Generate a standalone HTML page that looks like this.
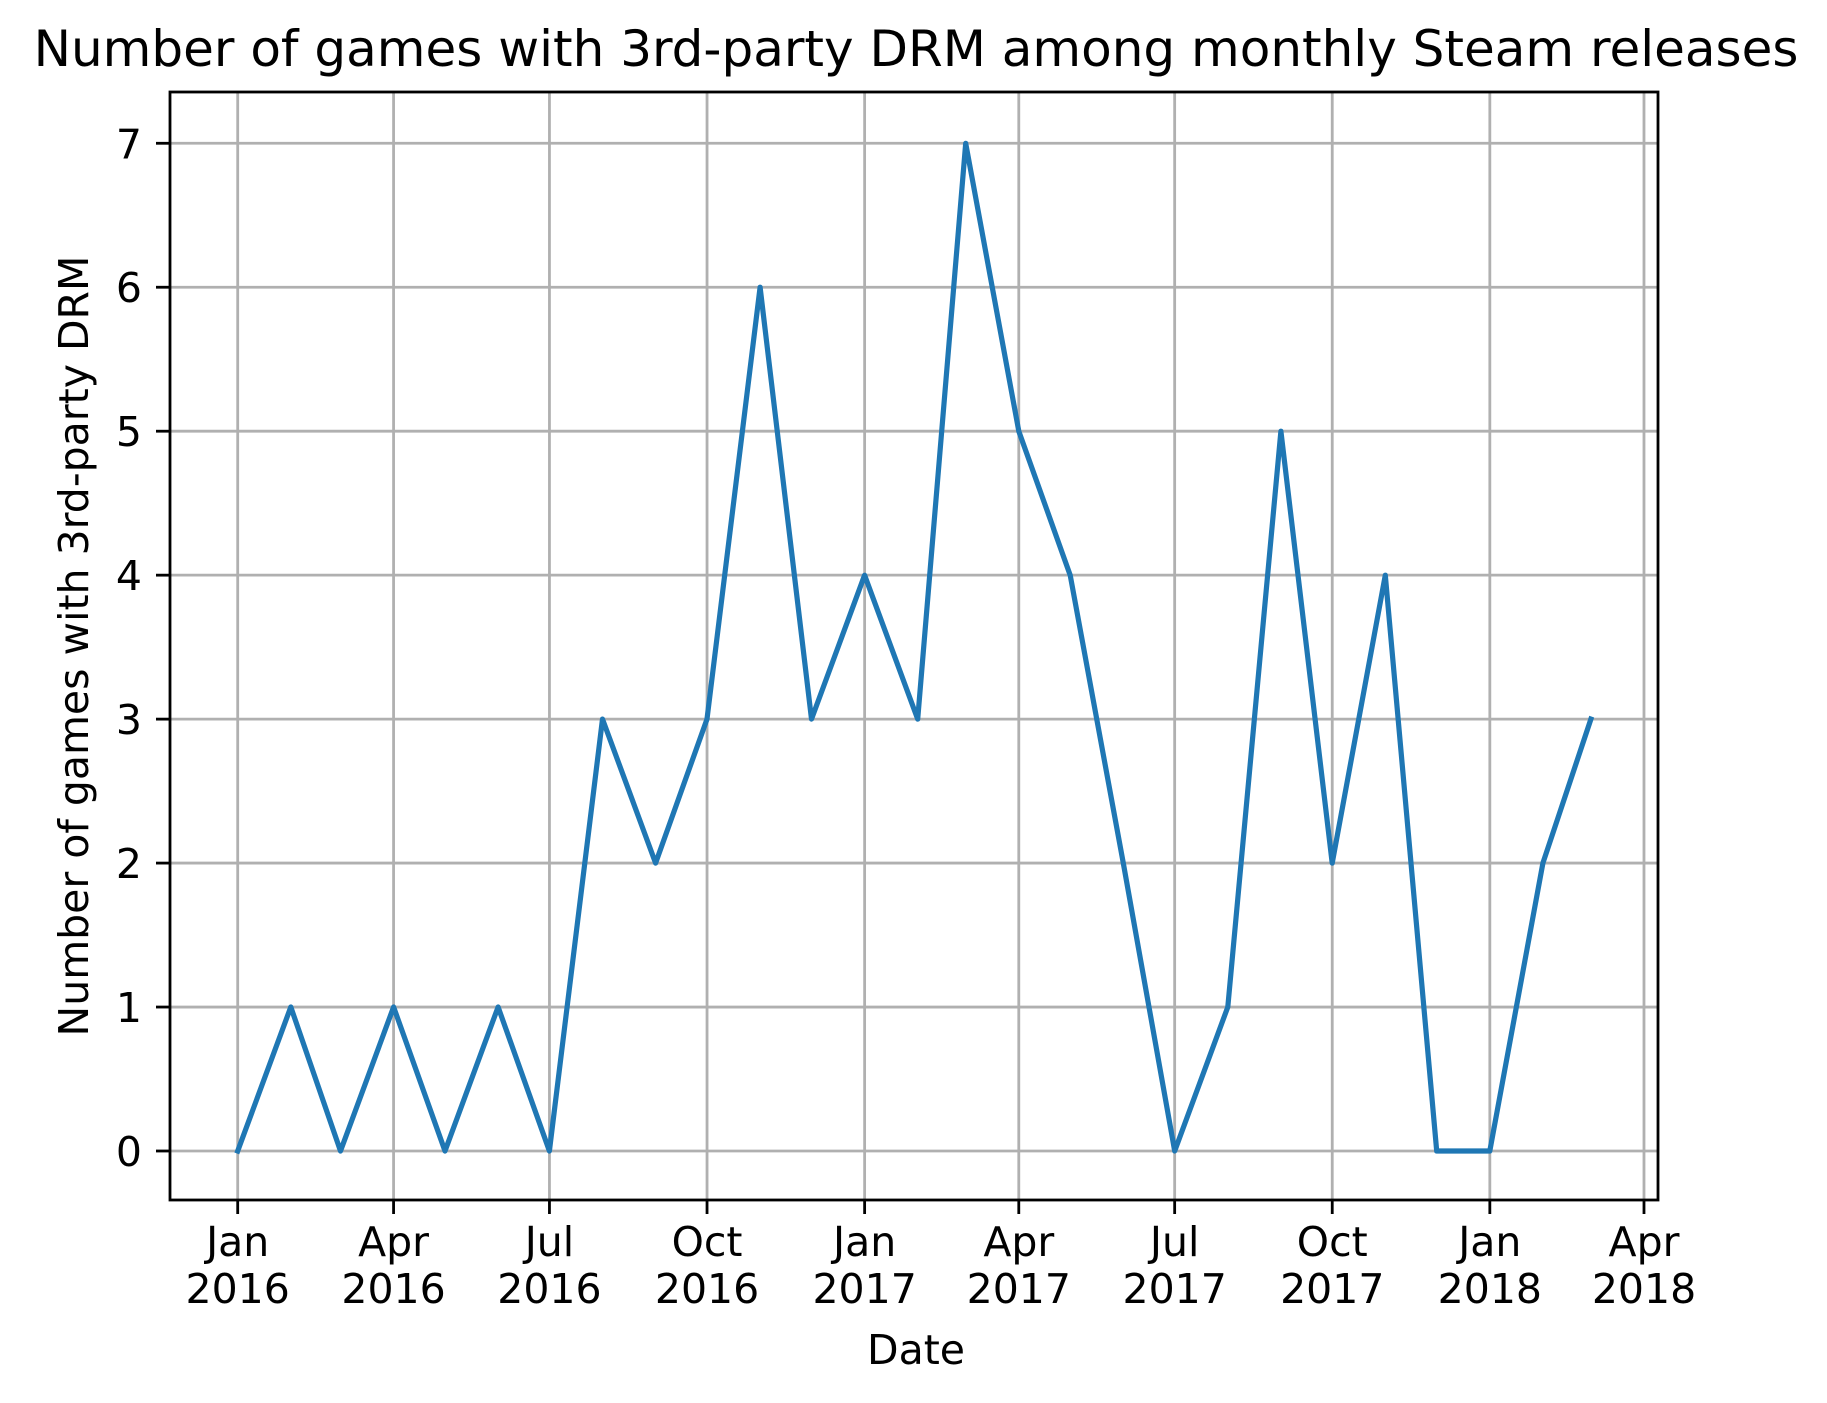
<!DOCTYPE html>
<html><head><meta charset="utf-8"><style>
html,body{margin:0;padding:0;background:#fff;}
svg{display:block;font-family:"DejaVu Sans","Liberation Sans",sans-serif;}
</style></head><body>
<svg id="chart" width="1827" height="1403" viewBox="0 0 1827 1403" xmlns="http://www.w3.org/2000/svg">
<rect width="1827" height="1403" fill="#fff"/>
<text x="916" y="66" font-size="50" text-anchor="middle">Number of games with 3rd-party DRM among monthly Steam releases</text>
<g id="grid"></g><g id="series"></g><g id="axes"></g>
<text x="916" y="1364" font-size="41" text-anchor="middle">Date</text>
<text transform="translate(88,646) rotate(-90)" font-size="41" text-anchor="middle">Number of games with 3rd-party DRM</text>
</svg>
<script>
const values = [0,1,0,1,0,1,0,3,2,3,6,3,4,3,7,5,4,2,0,1,5,2,4,0,0,2,3];
const startYear = 2016;
const xTickMonths = ["Jan","Apr","Jul","Oct"];
const yTicks = [0,1,2,3,4,5,6,7];

const L=170,R=1658,T=92,B=1200;
const x0=237.7,pxPerDay=1.7129;
const y0=1151,pxPerUnit=143.96;
const base=Date.UTC(2016,0,1);
function xDate(y,m){return x0+(Date.UTC(y,m,1)-base)/86400000*pxPerDay;}
function yVal(v){return y0-v*pxPerUnit;}
const NS="http://www.w3.org/2000/svg";
function mk(tag,attrs,parent){const e=document.createElementNS(NS,tag);for(const k in attrs)e.setAttribute(k,attrs[k]);parent.appendChild(e);return e;}
const grid=document.getElementById('grid'),axes=document.getElementById('axes'),series=document.getElementById('series');

for(let i=0;i<10;i++){
  const yr=startYear+Math.floor(i/4),m=(i%4)*3;
  const x=xDate(yr,m);
  const g=mk('line',{x1:x,x2:x,y1:T,y2:B,stroke:'#b0b0b0','stroke-width':2.8},grid);
  
  
  const t=mk('line',{x1:x,x2:x,y1:B,y2:B+14,stroke:'#000','stroke-width':2.8},axes);
  
  
  const lb=mk('text',{x:x,y:B+56,'font-size':41,'text-anchor':'middle'},axes);
  
  
  const s1=mk('tspan',{x:x},lb);s1.textContent=xTickMonths[i%4];
  const s2=mk('tspan',{x:x,dy:47},lb);s2.textContent=String(yr);
}
yTicks.forEach(v=>{
  const y=yVal(v);
  const g=mk('line',{x1:L,x2:R,y1:y,y2:y,stroke:'#b0b0b0','stroke-width':2.8},grid);
  
  
  const t=mk('line',{x1:L-14,x2:L,y1:y,y2:y,stroke:'#000','stroke-width':2.8},axes);
  
  
  const lb=mk('text',{x:L-28,y:y+15,'font-size':41,'text-anchor':'end'},axes);
  
  
  lb.textContent=String(v);
});
const frame=mk('rect',{x:L,y:T,width:R-L,height:B-T,fill:'none',stroke:'#000','stroke-width':2.8},axes);


const pts=values.map((v,i)=>xDate(startYear+Math.floor(i/12),i%12).toFixed(1)+','+yVal(v).toFixed(1)).join(' ');
const line=mk('polyline',{points:pts,fill:'none',stroke:'#1f77b4','stroke-width':5.2,'stroke-linejoin':'round','stroke-linecap':'square'},series);


</script>
</body></html>
